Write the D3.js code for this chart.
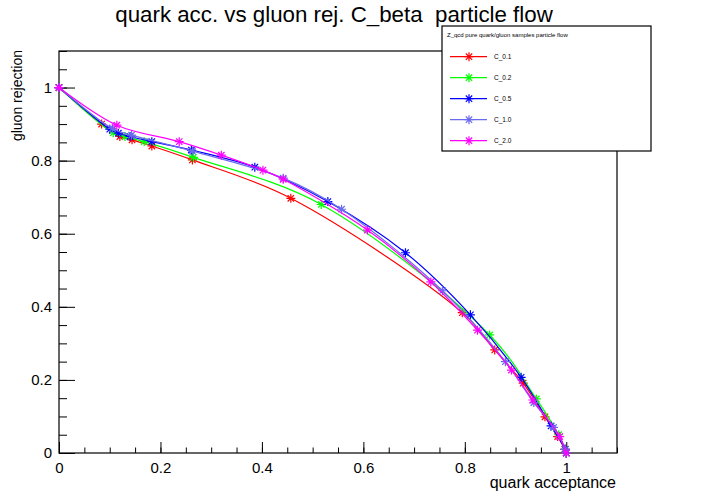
<!DOCTYPE html>
<html>
<head>
<meta charset="utf-8">
<script src="https://cdn.jsdelivr.net/npm/d3@7"></script>
<style>
body { margin: 0; background: #fff; }
svg { font-family: "Liberation Sans", Arial, sans-serif; }
</style>
</head>
<body>
<svg width="701" height="495"></svg>
<script>
// series (quark acceptance, gluon rejection)
var names = ["C_0.1", "C_0.2", "C_0.5", "C_1.0", "C_2.0"];
var colors = ["#ff0000", "#00ff00", "#0000ff", "#6a6af0", "#ff00ff"];

var x01 = [0, 0.084, 0.120, 0.144, 0.183, 0.263, 0.457, 0.795, 0.859, 0.915, 0.958, 0.983, 0.997, 1];
var y01 = [1, 0.900, 0.866, 0.857, 0.840, 0.802, 0.697, 0.384, 0.282, 0.191, 0.099, 0.045, 0.010, 0];

var x02 = [0, 0.107, 0.130, 0.168, 0.265, 0.517, 0.849, 0.941, 0.985, 0.998, 1];
var y02 = [1, 0.876, 0.866, 0.852, 0.809, 0.680, 0.323, 0.148, 0.050, 0.010, 0];

var x05 = [0, 0.100, 0.117, 0.140, 0.183, 0.261, 0.386, 0.530, 0.683, 0.811, 0.911, 0.970, 0.998, 1];
var y05 = [1, 0.886, 0.875, 0.866, 0.852, 0.829, 0.782, 0.688, 0.548, 0.378, 0.207, 0.074, 0.010, 0];

var x10 = [0, 0.105, 0.143, 0.263, 0.442, 0.557, 0.756, 0.880, 0.936, 0.975, 0.998, 1];
var y10 = [1, 0.888, 0.870, 0.826, 0.752, 0.667, 0.444, 0.250, 0.138, 0.070, 0.010, 0];

var x20 = [0, 0.114, 0.237, 0.320, 0.402, 0.442, 0.608, 0.733, 0.825, 0.892, 0.934, 0.987, 1];
var y20 = [1, 0.897, 0.852, 0.815, 0.774, 0.749, 0.610, 0.468, 0.336, 0.227, 0.145, 0.045, 0];

var xTicks = [0, 0.2, 0.4, 0.6, 0.8, 1];
var yTicks = [0, 0.2, 0.4, 0.6, 0.8, 1];

var title = "quark acc. vs gluon rej. C_beta  particle flow";
var legendTitle = "Z_qcd pure quark/gluon samples particle flow";

var xs = [x01, x02, x05, x10, x20];
var ys = [y01, y02, y05, y10, y20];
var series = names.map(function(n, i) {
    return {name: n, color: colors[i],
            pts: xs[i].map(function(v, j) { return [v, ys[i][j]]; })};
});

var svg = d3.select("svg");
var MARGIN = {top: 51, right: 84, bottom: 42, left: 59};
var W = 701 - MARGIN.left - MARGIN.right;
var H = 495 - MARGIN.top - MARGIN.bottom;

var x = d3.scaleLinear().domain([0, 1.1]).range([0, W]);
var y = d3.scaleLinear().domain([0, 1.1]).range([H, 0]);

var g = svg.append("g")
    .attr("transform", "translate(" + MARGIN.left + "," + MARGIN.top + ")");

var fmt = function(d) { return String(+d.toFixed(1)); };
var minor = d3.range(0, 1.1001, 0.05);

// minor ticks
g.append("g")
    .attr("class", "axis")
    .attr("transform", "translate(0," + H + ")")
    .call(d3.axisBottom(x).tickValues(minor).tickSize(-5.5).tickFormat(""));
g.append("g")
    .attr("class", "axis")
    .call(d3.axisLeft(y).tickValues(minor).tickSize(-8).tickFormat(""));

// major ticks + labels
g.append("g")
    .attr("class", "axis")
    .attr("transform", "translate(0," + H + ")")
    .call(d3.axisBottom(x).tickValues(xTicks).tickSize(-11).tickPadding(9).tickFormat(fmt));
g.append("g")
    .attr("class", "axis")
    .call(d3.axisLeft(y).tickValues(yTicks).tickSize(-16).tickPadding(7).tickFormat(fmt));

g.selectAll(".axis path").remove();
g.selectAll(".axis line").attr("stroke", "#000");
g.selectAll(".axis text").attr("fill", "#000").attr("font-size", 15)
    .attr("font-family", "Liberation Sans, Arial, sans-serif");

// frame
g.append("rect")
    .attr("width", W).attr("height", H)
    .attr("fill", "none").attr("stroke", "#000").attr("stroke-width", 1.2);

var line = d3.line()
    .curve(d3.curveCatmullRom.alpha(0.5))
    .x(function(d) { return x(d[0]); })
    .y(function(d) { return y(d[1]); });

var star = "M-4.5,0H4.5M0,-4.5V4.5M-3.2,-3.2L3.2,3.2M-3.2,3.2L3.2,-3.2";

series.forEach(function(s) {
    g.append("path")
        .datum(s.pts)
        .attr("fill", "none")
        .attr("stroke", s.color)
        .attr("stroke-width", 1.2)
        .attr("d", line);
    g.selectAll(null)
        .data(s.pts)
        .enter().append("path")
        .attr("transform", function(d) { return "translate(" + x(d[0]) + "," + y(d[1]) + ")"; })
        .attr("d", star)
        .attr("stroke", s.color)
        .attr("stroke-width", 1.2)
        .attr("fill", "none");
});

// axis titles
svg.append("text")
    .attr("x", 616).attr("y", 488)
    .attr("text-anchor", "end")
    .attr("font-size", 16)
    .text("quark acceptance");
svg.append("text")
    .attr("transform", "translate(22,50) rotate(-90)")
    .attr("text-anchor", "end")
    .attr("font-size", 14)
    .text("gluon rejection");

// title
svg.append("text")
    .attr("x", 334).attr("y", 22)
    .attr("text-anchor", "middle")
    .attr("font-size", 22.3)
    .style("white-space", "pre")
    .text(title);

// legend
var leg = svg.append("g").attr("transform", "translate(442,26)");
leg.append("rect")
    .attr("width", 209).attr("height", 125)
    .attr("fill", "#fff").attr("stroke", "#000").attr("stroke-width", 1.2);
leg.append("text")
    .attr("x", 5).attr("y", 11)
    .attr("font-size", 6)
    .text(legendTitle);
series.forEach(function(s, i) {
    var yy = 30.7 + i * 21;
    leg.append("line")
        .attr("x1", 8).attr("x2", 45).attr("y1", yy).attr("y2", yy)
        .attr("stroke", s.color).attr("stroke-width", 1.2);
    leg.append("path")
        .attr("transform", "translate(27," + yy + ")")
        .attr("d", star)
        .attr("stroke", s.color).attr("stroke-width", 1.2).attr("fill", "none");
    leg.append("text")
        .attr("x", 52).attr("y", yy + 2.3)
        .attr("font-size", 6.5)
        .text(s.name);
});
</script>
</body>
</html>
